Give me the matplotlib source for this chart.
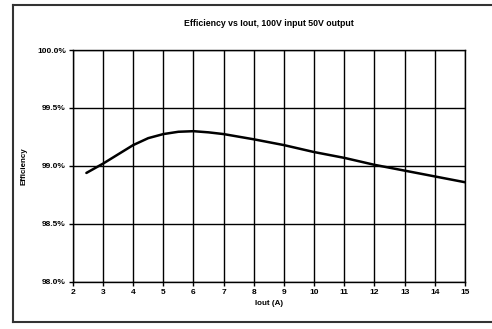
import matplotlib.pyplot as plt
from matplotlib.lines import Line2D

iout = [2.45, 3, 4, 4.5, 5, 5.5, 6, 6.5, 7, 8, 9, 10, 11, 12, 13, 14, 15]
efficiency = [98.94, 99.02, 99.18, 99.24, 99.275, 99.295, 99.30, 99.29, 99.275,
              99.23, 99.18, 99.12, 99.07, 99.01, 98.96, 98.91, 98.86]

x_ticks = list(range(2, 16))
y_ticks = [98.0, 98.5, 99.0, 99.5, 100.0]
y_labels = ["98.0%", "98.5%", "99.0%", "99.5%", "100.0%"]

plt.rcParams['font.family'] = ['Liberation Sans', 'DejaVu Sans']
plt.rcParams['font.weight'] = 'bold'

fig = plt.figure(figsize=(4.92, 3.29), dpi=100)
ax = fig.add_axes([0.148, 0.143, 0.797, 0.705])

ax.plot(iout, efficiency, color='black', lw=1.8, solid_capstyle='round',
        solid_joinstyle='round')

ax.set_xlim(2, 15)
ax.set_ylim(98.0, 100.0)
ax.set_xticks(x_ticks)
ax.set_yticks(y_ticks)
ax.set_yticklabels(y_labels)
ax.grid(True, color='black', lw=1.0)
for s in ax.spines.values():
    s.set_linewidth(1.0)
ax.tick_params(labelsize=6, length=3, width=1.0, pad=2)

ax.set_title("Efficiency vs Iout, 100V input 50V output", fontsize=6.3,
             fontweight='bold', pad=17)
ax.set_xlabel("Iout (A)", fontsize=5.8, fontweight='bold', labelpad=3)
ax.set_ylabel("Efficiency", fontsize=5.8, fontweight='bold', labelpad=7)

# outer frame around the chart, open on the right
fx0, fy0, fy1 = 13 / 492, 1 - 322 / 329, 1 - 5 / 329
for xs, ys in [([fx0, 1], [fy1, fy1]), ([fx0, 1], [fy0, fy0]), ([fx0, fx0], [fy0, fy1])]:
    fig.add_artist(Line2D(xs, ys, transform=fig.transFigure, color='#333333', lw=1.5))

fig.savefig("out.png", dpi=100)
